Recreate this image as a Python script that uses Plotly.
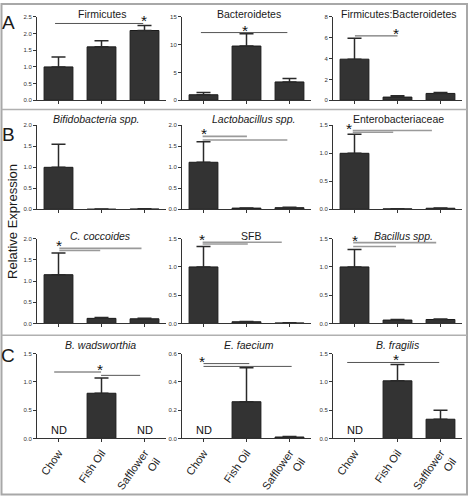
import plotly.graph_objects as go

# ---------------- data ----------------
categories = ["Chow", "Fish Oil", "Safflower<br>Oil"]
cat_pos = [0, 1, 2]

titles = ["Firmicutes", "Bacteroidetes", "Firmicutes:Bacteroidetes",
          "<i>Bifidobacteria spp.</i>", "<i>Lactobacillus spp.</i>", "Enterobacteriaceae",
          "<i>C. coccoides</i>", "SFB", "<i>Bacillus spp.</i>",
          "<i>B. wadsworthia</i>", "<i>E. faecium</i>", "<i>B. fragilis</i>"]

firmicutes = [1.0, 1.6, 2.09]
firmicutes_err = [0.30, 0.18, 0.15]
bacteroidetes = [1.0, 9.75, 3.3]
bacteroidetes_err = [0.4, 2.2, 0.6]
fb_ratio = [3.94, 0.31, 0.66]
fb_ratio_err = [2.0, 0.12, 0.1]
bifido = [1.0, 0.005, 0.01]
bifido_err = [0.55, 0.003, 0.005]
lacto = [1.12, 0.03, 0.04]
lacto_err = [0.49, 0.005, 0.01]
entero = [1.0, 0.01, 0.02]
entero_err = [0.34, 0.003, 0.005]
coccoides = [1.15, 0.12, 0.11]
coccoides_err = [0.51, 0.02, 0.015]
sfb = [1.0, 0.03, 0.01]
sfb_err = [0.36, 0.005, 0.003]
bacillus = [1.0, 0.06, 0.07]
bacillus_err = [0.31, 0.01, 0.01]
wadsworthia = [None, 0.80, None]
wadsworthia_err = [0, 0.27, 0]
faecium = [None, 0.26, 0.01]
faecium_err = [0, 0.24, 0.003]
fragilis = [None, 1.02, 0.34]
fragilis_err = [0, 0.29, 0.16]

values = [firmicutes, bacteroidetes, fb_ratio, bifido, lacto, entero,
          coccoides, sfb, bacillus, wadsworthia, faecium, fragilis]
errors = [firmicutes_err, bacteroidetes_err, fb_ratio_err, bifido_err, lacto_err, entero_err,
          coccoides_err, sfb_err, bacillus_err, wadsworthia_err, faecium_err, fragilis_err]

# y-axis maxima and tick steps
y_max = [2.5, 15, 8, 2.0, 2.0, 1.5, 2.0, 1.5, 1.5, 1.5, 0.6, 1.5]
y_step = [0.5, 5, 2, 0.5, 0.5, 0.5, 0.5, 0.5, 0.5, 0.5, 0.2, 0.5]
y_fmt = [".1f", "d", "d", ".1f", ".1f", ".1f", ".1f", ".1f", ".1f", ".1f", ".1f", ".1f"]

# significance lines: [x_start, x_end, y] per panel; stars: [x, y]
sig_lines = [
    [[-0.08, 1.97, 2.3]],
    [[-0.06, 1.95, 12.17]],
    [[0.01, 1.0, 6.17]],
    [],
    [[-0.02, 1.01, 1.735], [-0.02, 1.95, 1.65]],
    [[-0.04, 1.8, 1.406], [-0.04, 0.9, 1.376]],
    [[0.02, 1.93, 1.77], [0.02, 0.97, 1.72]],
    [[-0.02, 1.82, 1.435], [-0.02, 1.03, 1.405]],
    [[-0.03, 1.9, 1.43], [-0.03, 0.965, 1.36]],
    [[-0.1, 0.99, 1.176], [0.99, 1.9, 1.117]],
    [[0.0, 1.065, 0.53], [0.0, 2.05, 0.51]],
    [[-0.17, 1.97, 1.345]],
]
stars = [[1.99, 2.3], [0.97, 12.17], [0.97, 6.17], None, [0.0, 1.735], [-0.13, 1.406],
         [0.02, 1.77], [-0.03, 1.435], [-0.0, 1.43], [0.97, 1.176], [-0.04, 0.53], [0.97, 1.345]]
nd_labels = [[], [], [], [], [], [], [], [], [], [0, 2], [0], [0]]

# ---------------- layout geometry (pixels) ----------------
W, H = 469, 500
col_px = [(37, 166), (182, 311), (333, 462)]
row_px = [(14, 98.7), (124, 209.3), (239, 325), (355.7, 441.6)]
title_y_px = [11, 118, 236, 347]
title_dx_px = [0, 2, 1, -6, 7, 1, -1, 4, 6, -1, 2, 0]

FONT = "Arial, Liberation Sans, sans-serif"

fig = go.Figure()
layout = dict(
    width=W, height=H, margin=dict(l=0, r=0, t=0, b=0),
    paper_bgcolor="white", plot_bgcolor="white", showlegend=False,
    font=dict(family=FONT, color="#222"),
)
annotations = []
shapes = []

for i in range(12):
    r, c = divmod(i, 3)
    ax = "" if i == 0 else str(i + 1)
    x0, x1 = col_px[c]
    yt, yb = row_px[r]
    fig.add_trace(go.Bar(
        x=cat_pos, y=values[i], width=0.67,
        marker=dict(color="#333333", line=dict(color="#1a1a1a", width=1)),
        error_y=dict(type="data", symmetric=False, array=errors[i],
                     arrayminus=[0, 0, 0], color="#2a2a2a", thickness=1.5, width=7),
        xaxis="x" + ax, yaxis="y" + ax, hoverinfo="skip",
    ))
    last_row = (r == 3)
    layout["xaxis" + ax] = dict(
        domain=[x0 / W, x1 / W], anchor="y" + ax, range=[-0.5, 2.5],
        showline=True, linecolor="#333", linewidth=1, showgrid=False, zeroline=False,
        ticks="outside", ticklen=3, tickcolor="#333", tickwidth=1,
        tickvals=cat_pos, ticktext=categories, showticklabels=last_row,
        tickangle=-55, tickfont=dict(size=11, color="#222", family=FONT),
        fixedrange=True,
    )
    layout["yaxis" + ax] = dict(
        domain=[1 - yb / H, 1 - yt / H], anchor="x" + ax, range=[0, y_max[i]],
        showline=True, linecolor="#333", linewidth=1, showgrid=False, zeroline=False,
        ticks="outside", ticklen=3, tickcolor="#333", tickwidth=1,
        dtick=y_step[i], tick0=0, tickformat=y_fmt[i],
        tickfont=dict(size=6, color="#333", family=FONT), fixedrange=True,
    )
    # title
    annotations.append(dict(
        text=titles[i], xref="paper", yref="paper",
        x=((x0 + x1) / 2 + title_dx_px[i]) / W, y=1 - title_y_px[r] / H,
        xanchor="center", yanchor="middle", showarrow=False,
        font=dict(size=10.5, color="#1a1a1a", family=FONT),
    ))
    # significance lines
    grey_panel = r in (1, 2)
    for ln in sig_lines[i]:
        shapes.append(dict(
            type="line", xref="x" + ax, yref="y" + ax,
            x0=ln[0], x1=ln[1], y0=ln[2], y1=ln[2],
            line=dict(color="#9a9a9a" if grey_panel else "#555", width=1.6 if grey_panel else 1),
        ))
    if stars[i] is not None:
        annotations.append(dict(
            text="*", xref="x" + ax, yref="y" + ax, x=stars[i][0], y=stars[i][1],
            xanchor="center", yanchor="bottom", yshift=-8, showarrow=False,
            font=dict(size=15.5, color="#111", family=FONT),
        ))
    for k in nd_labels[i]:
        annotations.append(dict(
            text="ND", xref="x" + ax, yref="y" + ax, x=k, y=0,
            xanchor="center", yanchor="bottom", yshift=0, showarrow=False,
            font=dict(size=11, color="#111", family=FONT),
        ))

# panel letters
for letter, ypx in [("A", 20), ("B", 133), ("C", 358)]:
    annotations.append(dict(
        text=letter, xref="paper", yref="paper", x=8 / W, y=1 - ypx / H,
        xanchor="center", yanchor="middle", showarrow=False,
        font=dict(size=19, color="#1a1a1a", family=FONT),
    ))

# y label
annotations.append(dict(
    text="Relative Expression", xref="paper", yref="paper", x=13 / W, y=1 - 222 / H,
    xanchor="center", yanchor="middle", textangle=-90, showarrow=False,
    font=dict(size=13, color="#1a1a1a", family=FONT),
))

# frame and separators
shapes.append(dict(type="rect", xref="paper", yref="paper", x0=1.5 / W, x1=1 - 2 / W,
                   y0=1.5 / H, y1=1 - 1 / H, line=dict(color="#a8a8a8", width=2)))
for ypx in (108, 337):
    shapes.append(dict(type="line", xref="paper", yref="paper", x0=1.5 / W, x1=1 - 2 / W,
                       y0=1 - ypx / H, y1=1 - ypx / H, line=dict(color="#b0b0b0", width=1.5)))

layout["annotations"] = annotations
layout["shapes"] = shapes
fig.update_layout(**layout)
fig.write_html("out.html", config={"displayModeBar": False},
               post_script="document.body.style.margin='0px';document.body.style.overflow='hidden';")
